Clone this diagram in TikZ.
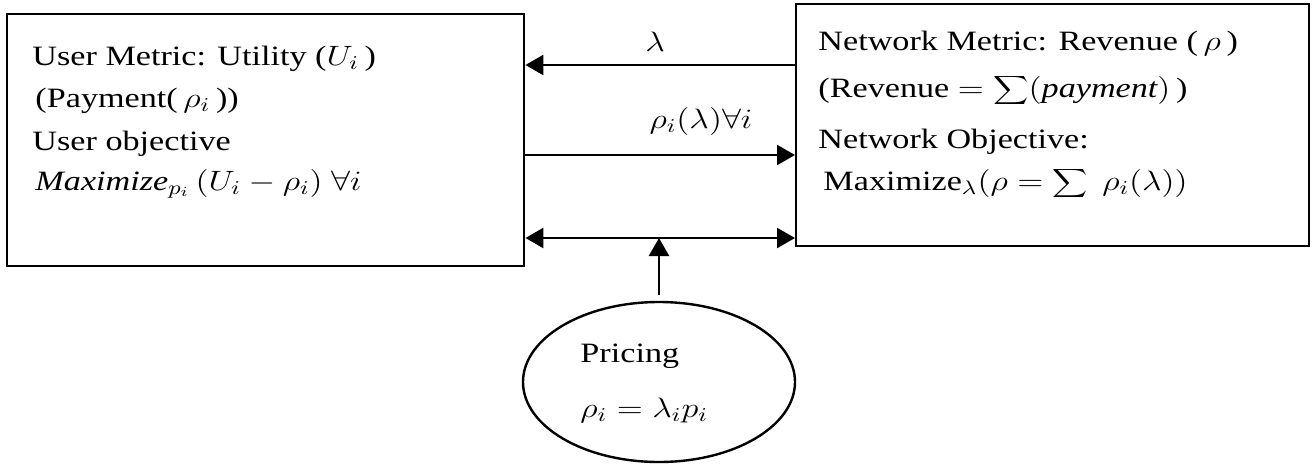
\RequirePackage{fix-cm}
\documentclass[tikz,border=0pt]{standalone}
\usepackage{fontspec}
\setmainfont{Liberation Serif}
\usetikzlibrary{arrows.meta,shapes.geometric}
\begin{document}
\begin{tikzpicture}[x=0.5pt,y=-0.5pt,
  box/.style={draw,line width=1.2pt,inner sep=0pt,anchor=north west},
  txt/.style={anchor=base west,inner sep=0pt,xscale=1.22,transform shape,font=\fontsize{14}{17}\selectfont},
  lbl/.style={inner sep=0pt,xscale=1.22,transform shape,font=\fontsize{14}{17}\selectfont},
  tip/.style={Triangle[length=9pt,width=10pt]},
  arr/.style={line width=1.2pt,-{Triangle[length=9pt,width=10pt]}},
  darr/.style={line width=1.2pt,{Triangle[length=9pt,width=10pt]}-{Triangle[length=9pt,width=10pt]}}]
\useasboundingbox (0,0) rectangle (1313,467);
% boxes
\node[box,minimum width=258.5pt,minimum height=126pt] (user) at (6,13) {};
\node[box,minimum width=256.5pt,minimum height=121pt] (net) at (795,3) {};
\node[draw,line width=1.2pt,ellipse,minimum width=136pt,minimum height=80pt,inner sep=0pt] (pricing) at (659,382) {};
% left texts
\node[txt] (u1) at (32,65) {User Metric: Utility ($U_i$\,)};
\node[txt] (u2) at (35,107) {(Payment(\,$\rho_i$\,))};
\node[txt] (u3) at (32,150) {User objective};
\node[txt] (u4) at (35,190) {\textit{Maximize}$_{p_i}\,(U_i-\rho_i)\ \forall i$};
% right texts
\node[txt] (n1) at (818,50) {Network Metric: Revenue ($\,\rho\,$)};
\node[txt] (n2) at (818,97) {(Revenue $=\displaystyle\sum(\textit{payment})$\,)};
\node[txt] (n3) at (818,148) {Network Objective:};
\node[txt] (n4) at (823,190) {Maximize$_\lambda(\rho=\displaystyle\sum\ \rho_i(\lambda))$};
% pricing texts
\node[txt] (p1) at (580,362) {Pricing};
\node[txt] (p2) at (580,417) {$\rho_i=\lambda_i p_i$};
% connectors
\coordinate (ya) at (0,65);
\coordinate (yb) at (0,155);
\coordinate (yc) at (0,238);
\draw[arr] (net.west |- ya) -- (user.east |- ya);
\draw[arr] (user.east |- yb) -- (net.west |- yb);
\draw[darr] (user.east |- yc) -- (net.west |- yc);
\draw[arr,shorten <=3pt] (pricing.north) -- (pricing.north |- yc);
% arrow labels
\node[lbl] (la) at (655,42) {$\lambda$};
\node[lbl] (lb) at (701,121) {$\rho_i(\lambda)\forall i$};
\end{tikzpicture}
\end{document}
